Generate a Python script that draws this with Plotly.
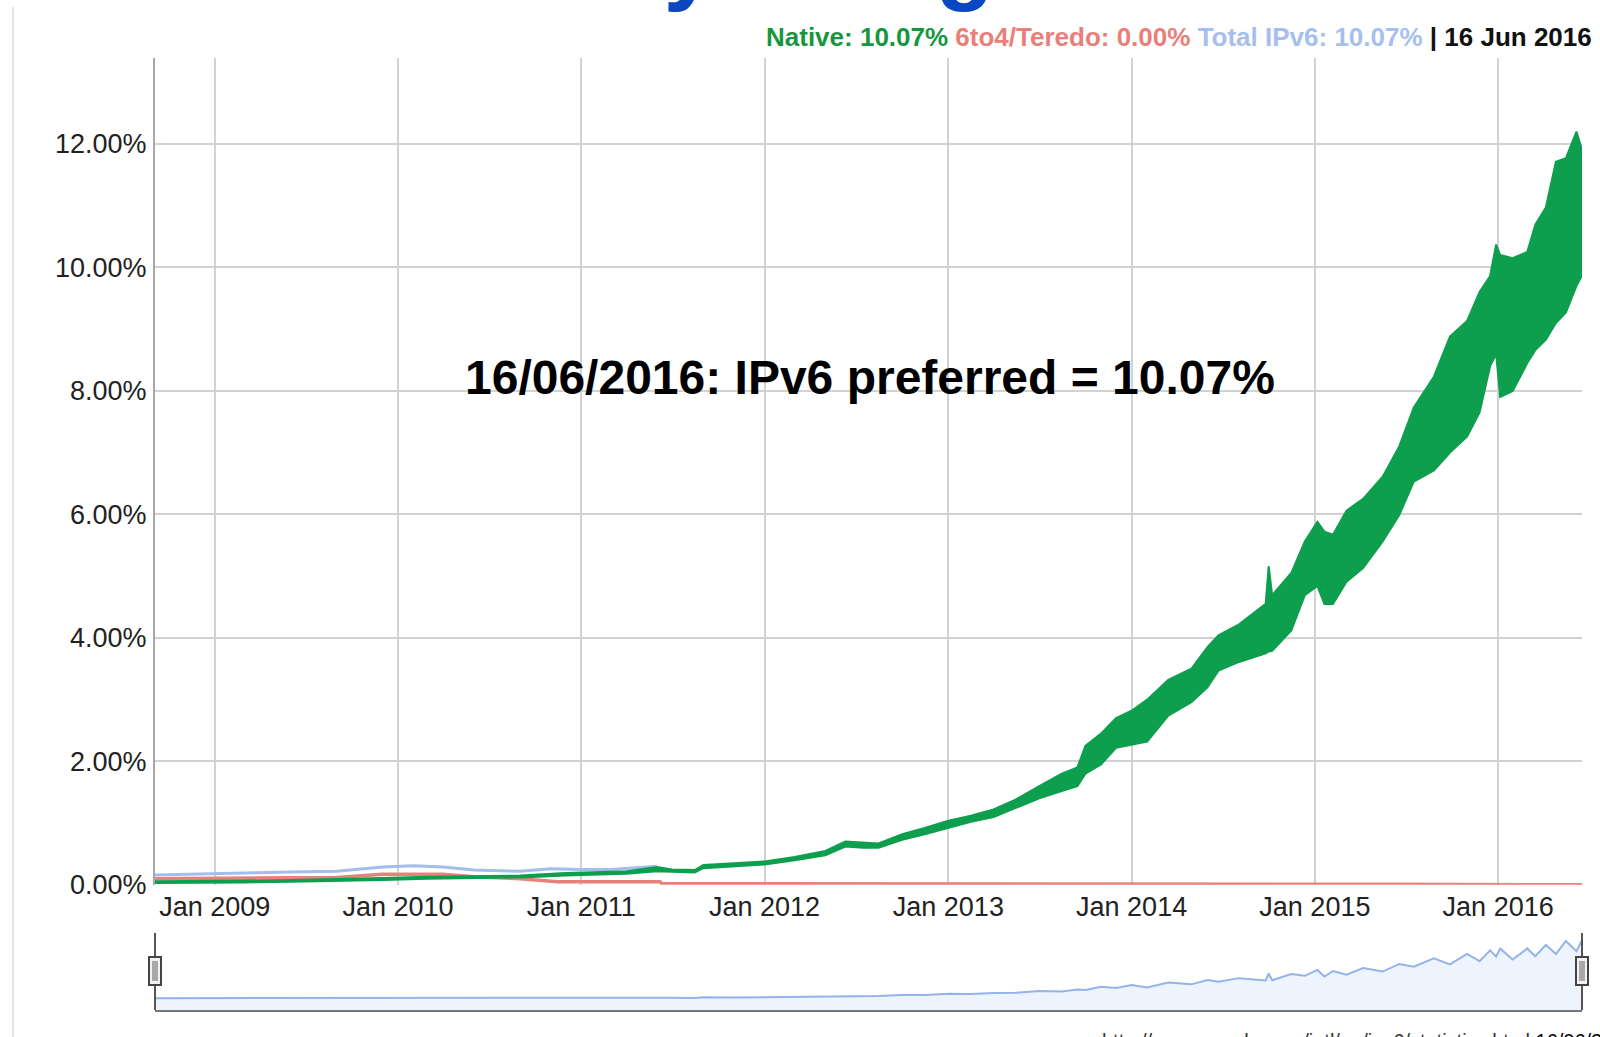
import plotly.graph_objects as go

# Native IPv6 share (%), weekly swing read as a low / high envelope
BAND_DATES = [
    "2008-09-04", "2008-12-01", "2009-03-01", "2009-06-01", "2009-09-01",
    "2009-12-01", "2010-03-01", "2010-06-01", "2010-09-01", "2010-12-01",
    "2011-02-01", "2011-04-01", "2011-06-01", "2011-07-01", "2011-08-15",
    "2011-09-01", "2011-11-01", "2012-01-01", "2012-03-01", "2012-05-01",
    "2012-06-10", "2012-07-15", "2012-08-15", "2012-10-01", "2012-11-15",
    "2013-01-01", "2013-02-15", "2013-04-01", "2013-05-15", "2013-07-01",
    "2013-08-15", "2013-09-15", "2013-10-01", "2013-11-01", "2013-12-01",
    "2014-01-01", "2014-02-01", "2014-03-15", "2014-04-30", "2014-06-01",
    "2014-06-23", "2014-08-03", "2014-09-25", "2014-10-01", "2014-10-08",
    "2014-11-15", "2014-12-12", "2015-01-06", "2015-01-20", "2015-02-06",
    "2015-03-05", "2015-04-07", "2015-05-16", "2015-06-18", "2015-07-17",
    "2015-08-26", "2015-09-27", "2015-10-31", "2015-11-25", "2015-12-16",
    "2015-12-28", "2016-01-05", "2016-01-30", "2016-02-28", "2016-03-15",
    "2016-04-05", "2016-04-25", "2016-05-15", "2016-06-05", "2016-06-16",
]
NATIVE_LOW = [
    0.03, 0.03, 0.04, 0.05, 0.06, 0.08, 0.10, 0.11, 0.12, 0.15,
    0.16, 0.18, 0.22, 0.21, 0.20, 0.27, 0.30, 0.33, 0.40, 0.48,
    0.62, 0.60, 0.60, 0.73, 0.82, 0.92, 1.02, 1.10, 1.25, 1.40,
    1.52, 1.60, 1.80, 1.95, 2.22, 2.27, 2.32, 2.74, 2.96, 3.20,
    3.47, 3.61, 3.75, 3.78, 3.79, 4.12, 4.69, 4.84, 4.55, 4.55,
    4.91, 5.13, 5.56, 5.99, 6.53, 6.71, 7.00, 7.26, 7.65, 8.40,
    8.60, 7.90, 8.00, 8.45, 8.66, 8.83, 9.10, 9.27, 9.70, 9.87,
]
NATIVE_HIGH = [
    0.06, 0.06, 0.07, 0.08, 0.09, 0.11, 0.13, 0.14, 0.15, 0.19,
    0.20, 0.22, 0.29, 0.25, 0.24, 0.32, 0.35, 0.38, 0.45, 0.55,
    0.70, 0.68, 0.67, 0.82, 0.92, 1.04, 1.12, 1.22, 1.38, 1.60,
    1.80, 1.90, 2.25, 2.45, 2.70, 2.82, 3.00, 3.32, 3.50, 3.85,
    4.04, 4.22, 4.55, 5.16, 4.69, 5.05, 5.56, 5.88, 5.72, 5.67,
    6.06, 6.25, 6.61, 7.10, 7.73, 8.23, 8.88, 9.13, 9.60, 9.86,
    10.37, 10.20, 10.15, 10.25, 10.69, 10.97, 11.71, 11.77, 12.20, 11.90,
]

# 6to4/Teredo share (%)
TEREDO_DATES = [
    "2008-09-04", "2009-03-01", "2009-09-01", "2009-12-01", "2010-04-01",
    "2010-06-01", "2010-09-01", "2010-11-15", "2011-06-07", "2011-06-10",
    "2012-06-01", "2013-06-01", "2014-06-01", "2015-06-01", "2016-06-16",
]
TEREDO = [0.10, 0.11, 0.12, 0.17, 0.17, 0.13, 0.10, 0.05, 0.05, 0.02,
          0.02, 0.01, 0.01, 0.01, 0.00]

# Total IPv6 (%) where it shows above the native line
TOTAL_DATES = [
    "2008-09-04", "2008-12-01", "2009-03-01", "2009-06-01", "2009-09-01",
    "2009-12-01", "2010-02-01", "2010-04-01", "2010-06-01", "2010-09-01",
    "2010-11-01", "2011-01-01", "2011-03-01", "2011-06-01",
]
TOTAL = [0.16, 0.17, 0.19, 0.21, 0.22, 0.29, 0.31, 0.29, 0.24, 0.22,
         0.26, 0.25, 0.25, 0.30]

LATEST = {"native": 10.07, "teredo": 0.00, "total": 10.07, "date": "16 Jun 2016"}
SOURCE_URL = "http://www.google.com/intl/en/ipv6/statistics.html"

X_RANGE = ["2008-09-04", "2016-06-16"]
Y_RANGE = [0, 13.39]
MINI_RANGE = [-2.24, 13.4]

GREEN = "#0e9f4e"
RED = "#e8817c"
BLUE = "#a3bdec"
GRID = "#d2d2d2"
FONT = "Liberation Sans, Arial, sans-serif"

# target picture is 1600x1037; the page is captured 1053 px tall and squeezed
# to that, so the figure fills 1053 and positions are given as picture fractions
W, H = 1600, 1037
FIG_H = 1053


def px(x):
    return x / W


def py(y):
    return 1 - y / H


X_DOM = [px(155), px(1582)]
Y_DOM = [py(884), py(58)]
MINI_DOM = [py(1009), py(932)]

# range-selector overview: total line, zigzag through the envelope once the lines merge
cut = BAND_DATES.index("2011-06-01") + 1
mini_x = TOTAL_DATES + BAND_DATES[cut:]
mini_y = TOTAL + [
    NATIVE_HIGH[i] if (i - cut) % 2 == 0 else NATIVE_LOW[i]
    for i in range(cut, len(BAND_DATES))
]

fig = go.Figure()
fig.add_trace(go.Scatter(x=TOTAL_DATES, y=TOTAL, mode="lines",
                         line=dict(color=BLUE, width=3), name="Total IPv6"))
fig.add_trace(go.Scatter(x=TEREDO_DATES, y=TEREDO, mode="lines",
                         line=dict(color=RED, width=3.5), name="6to4/Teredo"))
fig.add_trace(go.Scatter(x=BAND_DATES, y=NATIVE_LOW, mode="lines",
                         line=dict(color=GREEN, width=2), name="Native"))
fig.add_trace(go.Scatter(x=BAND_DATES, y=NATIVE_HIGH, mode="lines", fill="tonexty",
                         fillcolor=GREEN, line=dict(color=GREEN, width=2),
                         name="Native"))

fig.add_trace(go.Scatter(x=X_RANGE, y=[MINI_RANGE[0]] * 2, mode="lines",
                         line=dict(width=0), xaxis="x2", yaxis="y2"))
fig.add_trace(go.Scatter(x=mini_x, y=mini_y, mode="lines", fill="tonexty",
                         fillcolor="#edf4fd", line=dict(color="#93b3ea", width=2),
                         xaxis="x2", yaxis="y2"))

legend_text = (
    f'<b><span style="color:#16973f">Native: {LATEST["native"]:.2f}%</span> '
    f'<span style="color:#ea7f7a">6to4/Teredo: {LATEST["teredo"]:.2f}%</span> '
    f'<span style="color:#a6bfee">Total IPv6: {LATEST["total"]:.2f}%</span> '
    f'<span style="color:#111">| {LATEST["date"]}</span></b>'
)

annotations = [
    # slide title, only its descenders are left on screen
    dict(text="<b>Measured by Google</b>", xref="paper", yref="paper",
         x=px(128), y=py(14), xanchor="left", yanchor="bottom", showarrow=False,
         font=dict(family=FONT, size=96, color="#0b47c1")),
    dict(text=legend_text, xref="paper", yref="paper", x=px(1594), y=py(37),
         xanchor="right", yanchor="middle", showarrow=False,
         font=dict(family=FONT, size=26)),
    dict(text="<b>16/06/2016: IPv6 preferred = 10.07%</b>", xref="paper", yref="paper",
         x=px(870), y=py(377), xanchor="center", yanchor="middle", showarrow=False,
         font=dict(family=FONT, size=48, color="#000")),
    # source line, cut off by the bottom edge like in the slide
    dict(text=f'{SOURCE_URL} <span style="color:#000">16/06/2016</span>',
         xref="paper", yref="paper", x=px(1100), y=py(1027),
         xanchor="left", yanchor="top", showarrow=False,
         font=dict(family=FONT, size=20, color="#333")),
]

shapes = [
    # slide frame edge
    dict(type="line", xref="paper", yref="paper", x0=px(13), x1=px(13),
         y0=0, y1=py(7), line=dict(color="#e4e4e4", width=2)),
]
for xp in (155, 1582):
    shapes.append(dict(type="line", xref="paper", yref="paper", x0=px(xp), x1=px(xp),
                       y0=MINI_DOM[0], y1=MINI_DOM[1], line=dict(color="#555", width=2)))
    shapes.append(dict(type="rect", xref="paper", yref="paper",
                       x0=px(xp - 6), x1=px(xp + 6), y0=py(984), y1=py(956),
                       fillcolor="#f2f2f2", line=dict(color="#444", width=2)))
    shapes.append(dict(type="rect", xref="paper", yref="paper",
                       x0=px(xp - 3), x1=px(xp + 3), y0=py(980), y1=py(960),
                       fillcolor="#a8a8a8", line=dict(width=0)))

fig.update_layout(
    width=W, height=FIG_H,
    margin=dict(l=0, r=0, t=0, b=0),
    paper_bgcolor="white", plot_bgcolor="white",
    showlegend=False,
    font=dict(family=FONT, color="#222"),
    xaxis=dict(domain=X_DOM, range=X_RANGE, type="date", anchor="y",
               tickformat="%b %Y", dtick="M12", tick0="2009-01-01",
               showgrid=True, gridcolor=GRID, gridwidth=1.5, zeroline=False,
               ticks="", tickfont=dict(size=27, color="#222"), ticklabelstandoff=3),
    yaxis=dict(domain=Y_DOM, range=Y_RANGE, anchor="x", dtick=2, tick0=0,
               tickformat=".2f", ticksuffix="%", showgrid=True, gridcolor=GRID,
               gridwidth=1.5, zeroline=False, showline=True, linecolor="#a8a8a8",
               linewidth=2, ticks="", tickfont=dict(size=27, color="#222"),
               ticklabelstandoff=1),
    xaxis2=dict(domain=X_DOM, range=X_RANGE, type="date", anchor="y2",
                showgrid=False, showticklabels=False, zeroline=False, ticks="",
                showline=True, linecolor="#777", linewidth=2),
    yaxis2=dict(domain=MINI_DOM, range=MINI_RANGE, anchor="x2", visible=False),
    annotations=annotations,
    shapes=shapes,
)

# drop the page's default body margin so the figure starts at the window corner
fig.write_html(
    "out.html", config={"displayModeBar": False},
    post_script="document.body.style.margin='0';document.body.style.overflow='hidden';",
)
